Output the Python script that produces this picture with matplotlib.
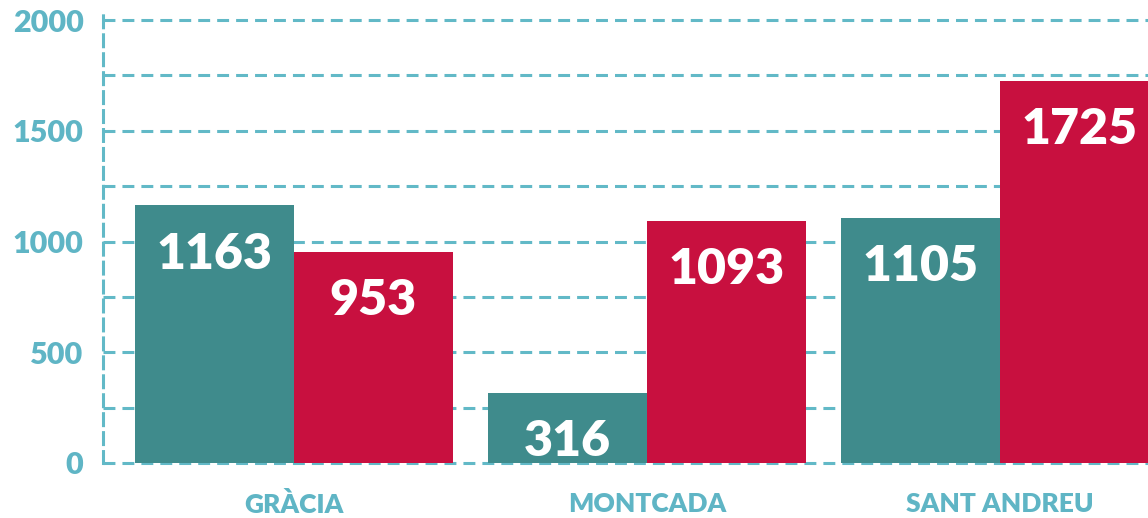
import matplotlib
matplotlib.use("Agg")
import matplotlib.pyplot as plt
import numpy as np

categories = ["GRÀCIA", "MONTCADA", "SANT ANDREU"]
series_a = [1163, 316, 1105]
series_b = [953, 1093, 1725]
ytick_vals = [0, 500, 1000, 1500, 2000]
ytick_labels = ["0", "500", "1000", "1500", "2000"]
grid_vals = [0, 250, 500, 750, 1000, 1250, 1500, 1750, 2000]

TEAL = "#3f8b8c"
RED = "#c8103f"
GRID = "#62b9c7"
LABEL = "#5fb5c5"
FONT = ["Lato", "DejaVu Sans"]

plt.rcParams['font.family'] = FONT

fig = plt.figure(figsize=(11.48, 5.18), dpi=100)
ax = fig.add_axes([103/1148, 1 - 463/518, 1 - 103/1148, (463 - 13)/518])

x = np.arange(len(categories))
w = 0.45
off = 0.225

lw = 2.2
dash = (3.9, 2.3)
for g in grid_vals:
    ax.axhline(g, color=GRID, lw=lw, linestyle=(0, dash), zorder=0, clip_on=False)

ax.bar(x - off, series_a, width=w, color=TEAL, zorder=2)
ax.bar(x + off, series_b, width=w, color=RED, zorder=3)

for xs, vals in ((x - off, series_a), (x + off, series_b)):
    for xi, v in zip(xs, vals):
        ax.annotate(str(v), (xi, v), xytext=(0, -35), textcoords="offset points",
                    ha="center", va="center", color="white", fontsize=36,
                    fontweight="heavy", zorder=5)

ax.set_xlim(-0.541, 2.42)
ax.set_ylim(0, 2032)

for s in ["top", "right", "bottom"]:
    ax.spines[s].set_visible(False)
ax.spines["left"].set_color(GRID)
ax.spines["left"].set_linewidth(lw)
ax.spines["left"].set_linestyle((0, dash))

ax.set_yticks(ytick_vals)
ax.set_yticklabels(ytick_labels, fontweight="heavy", fontsize=22, color=LABEL)
ax.set_xticks(x)
ax.set_xticklabels(categories, fontweight="heavy", fontsize=19, color=LABEL)
ax.tick_params(axis="y", length=0, pad=14)
ax.tick_params(axis="x", length=0, pad=21)

fig.savefig("out.png", dpi=100)
